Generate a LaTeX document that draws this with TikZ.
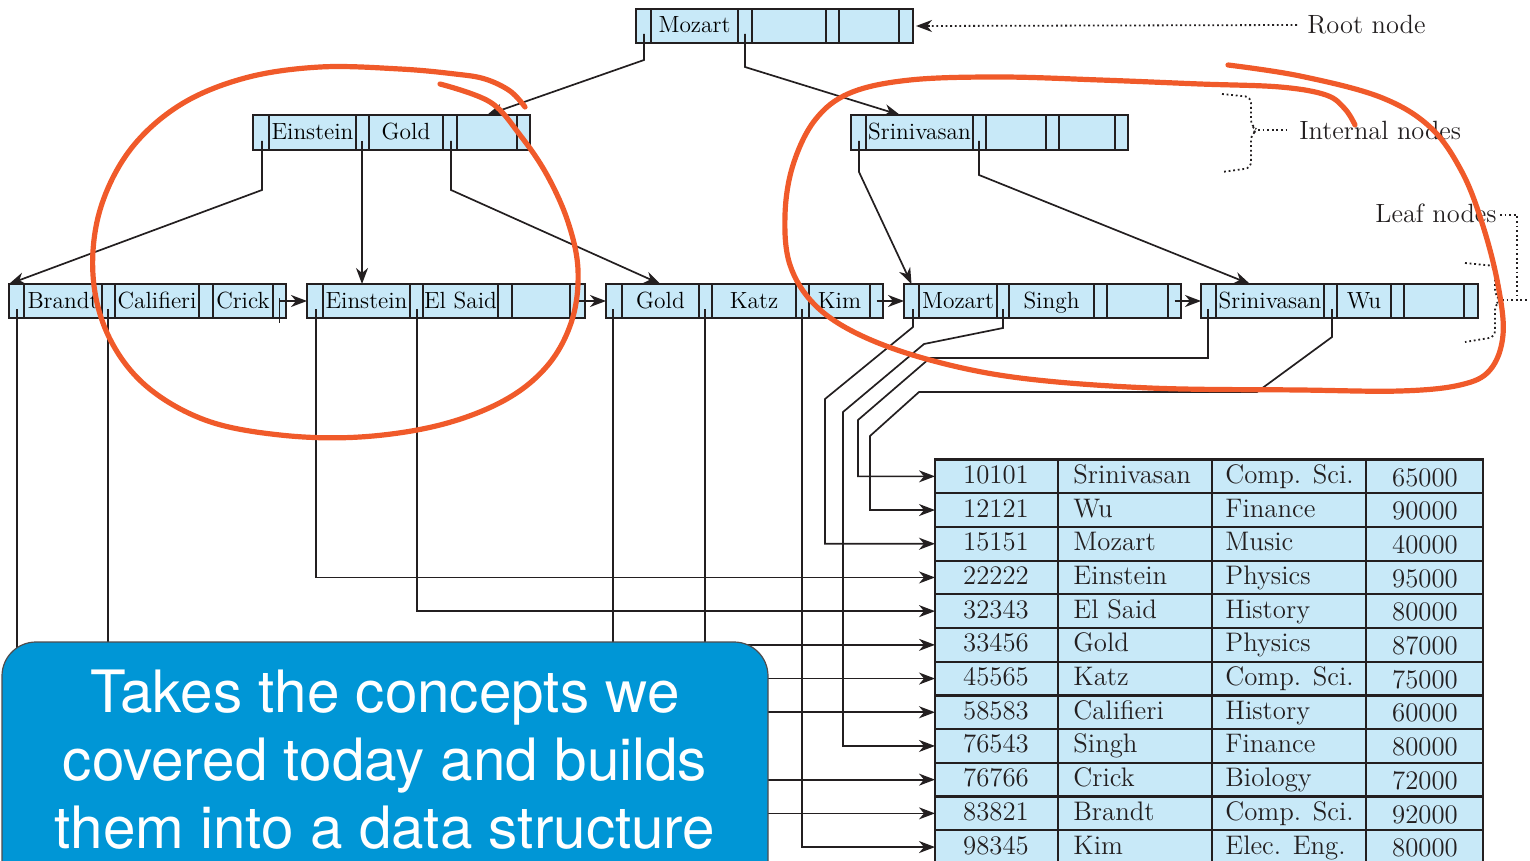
\documentclass[tikz,border=0pt]{standalone}
\usepackage{fontspec}
\newfontfamily\boxfont{TeX Gyre Heros}
\usetikzlibrary{arrows.meta,calc}
\definecolor{cellblue}{RGB}{200,233,248}
\definecolor{notebox}{RGB}{0,150,214}
\definecolor{pen}{RGB}{240,90,42}
\definecolor{ink}{RGB}{35,31,32}
\newcommand\cb[6]{\node[cellst,minimum width={(#3-#2)*0.5pt},minimum height={(#5-#4)*0.5pt}] (#1) at ({(#2+#3)/2},{(#4+#5)/2}) {#6};}
\newcommand\trow[5]{%
 \pgfmathsetmacro\ya{459.5+33.7*#1}\pgfmathsetmacro\yb{\ya+33.7}\pgfmathsetmacro\yc{\ya+16.85}%
 \cb{t#1-id}{935}{1058}{\ya}{\yb}{}
 \cb{t#1-nm}{1058}{1212}{\ya}{\yb}{}
 \cb{t#1-dp}{1212}{1366}{\ya}{\yb}{}
 \cb{t#1-sl}{1366}{1483}{\ya}{\yb}{}
 \node[tabtxt] (t#1-idt) at (996,\yc) {#2};
 \node[tabtxt,anchor=west] (t#1-nmt) at (1073,\yc) {#3};
 \node[tabtxt,anchor=west] (t#1-dpt) at (1225,\yc) {#4};
 \node[tabtxt] (t#1-slt) at (1425,\yc+2.7) {#5};
}
\tikzset{
 cellst/.style={draw=ink,fill=cellblue,line width=1.1pt,inner sep=0pt,outer sep=0pt,
   font=\fontsize{11.7}{14}\selectfont,text height=9pt,text depth=2pt},
 tabtxt/.style={inner sep=0pt,font=\fontsize{13.4}{16}\selectfont,text=ink,text height=9.8pt,text depth=2.8pt},
 lbl/.style={inner sep=0pt,font=\fontsize{13.2}{15}\selectfont,text=ink},
 ptr/.style={draw=ink,line width=0.85pt,-{Stealth[length=8pt,width=6pt,inset=2.5pt]}},
 lin/.style={draw=ink,line width=0.85pt},
 dotln/.style={draw=ink,line width=0.9pt,dash pattern=on 0.9pt off 1.4pt},
 penst/.style={draw=pen,line width=2.6pt,line cap=round,line join=round},
 notest/.style={draw=ink!80,line width=0.6pt,fill=notebox,rounded corners=17pt,inner sep=0pt},
 notetxt/.style={inner sep=0pt,text=white,font=\boxfont\fontsize{29.2}{34}\selectfont},
}
\begin{document}
\begin{tikzpicture}[x=0.5pt,y=-0.5pt]
\useasboundingbox (0,0) rectangle (1530,861);
\clip (0,0) rectangle (1530,861);
% ---------- root
\cb{root-p1}{636}{651}{9}{43}{}
\cb{root-k1}{651}{738}{9}{43}{Mozart}
\cb{root-p2}{738}{752}{9}{43}{}
\cb{root-k2}{752}{826}{9}{43}{}
\cb{root-p3}{826}{839}{9}{43}{}
\cb{root-k3}{839}{899}{9}{43}{}
\cb{root-p4}{899}{913}{9}{43}{}
% ---------- internal Einstein
\cb{ei-p1}{253}{269}{115}{150}{}
\cb{ei-k1}{269}{356}{115}{150}{Einstein}
\cb{ei-p2}{356}{369}{115}{150}{}
\cb{ei-k2}{369}{443}{115}{150}{Gold}
\cb{ei-p3}{443}{457}{115}{150}{}
\cb{ei-k3}{457}{517}{115}{150}{}
\cb{ei-p4}{517}{530}{115}{150}{}
% ---------- internal Srinivasan
\cb{si-p1}{851}{866}{115}{150}{}
\cb{si-k1}{866}{973}{115}{150}{Srinivasan}
\cb{si-p2}{973}{986}{115}{150}{}
\cb{si-k2}{986}{1046}{115}{150}{}
\cb{si-p3}{1046}{1059}{115}{150}{}
\cb{si-k3}{1059}{1115}{115}{150}{}
\cb{si-p4}{1115}{1128}{115}{150}{}
% ---------- leaves
\cb{l1-p1}{9}{24}{284}{318}{}
\cb{l1-k1}{24}{102}{284}{318}{Brandt}
\cb{l1-p2}{102}{115}{284}{318}{}
\cb{l1-k2}{115}{199}{284}{318}{Califieri}
\cb{l1-p3}{199}{213}{284}{318}{}
\cb{l1-k3}{213}{273}{284}{318}{Crick}
\cb{l1-p4}{273}{286}{284}{318}{}
\cb{l2-p1}{307}{323}{284}{318}{}
\cb{l2-k1}{323}{410}{284}{318}{Einstein}
\cb{l2-p2}{410}{423}{284}{318}{}
\cb{l2-k2}{423}{498}{284}{318}{El Said}
\cb{l2-p3}{498}{512}{284}{318}{}
\cb{l2-k3}{512}{570}{284}{318}{}
\cb{l2-p4}{570}{585}{284}{318}{}
\cb{l3-p1}{606}{622}{284}{318}{}
\cb{l3-k1}{622}{699}{284}{318}{Gold}
\cb{l3-p2}{699}{712}{284}{318}{}
\cb{l3-k2}{712}{796}{284}{318}{Katz}
\cb{l3-p3}{796}{809}{284}{318}{}
\cb{l3-k3}{809}{870}{284}{318}{Kim}
\cb{l3-p4}{870}{883}{284}{318}{}
\cb{l4-p1}{904}{919}{284}{318}{}
\cb{l4-k1}{919}{997}{284}{318}{Mozart}
\cb{l4-p2}{997}{1009}{284}{318}{}
\cb{l4-k2}{1009}{1094}{284}{318}{Singh}
\cb{l4-p3}{1094}{1107}{284}{318}{}
\cb{l4-k3}{1107}{1168}{284}{318}{}
\cb{l4-p4}{1168}{1181}{284}{318}{}
\cb{l5-p1}{1201}{1216}{284}{318}{}
\cb{l5-k1}{1216}{1324}{284}{318}{Srinivasan}
\cb{l5-p2}{1324}{1337}{284}{318}{}
\cb{l5-k2}{1337}{1391}{284}{318}{Wu}
\cb{l5-p3}{1391}{1404}{284}{318}{}
\cb{l5-k3}{1404}{1464}{284}{318}{}
\cb{l5-p4}{1464}{1478}{284}{318}{}
% ---------- table
\trow{0}{10101}{Srinivasan}{Comp. Sci.}{65000}
\trow{1}{12121}{Wu}{Finance}{90000}
\trow{2}{15151}{Mozart}{Music}{40000}
\trow{3}{22222}{Einstein}{Physics}{95000}
\trow{4}{32343}{El Said}{History}{80000}
\trow{5}{33456}{Gold}{Physics}{87000}
\trow{6}{45565}{Katz}{Comp. Sci.}{75000}
\trow{7}{58583}{Califieri}{History}{60000}
\trow{8}{76543}{Singh}{Finance}{80000}
\trow{9}{76766}{Crick}{Biology}{72000}
\trow{10}{83821}{Brandt}{Comp. Sci.}{92000}
\trow{11}{98345}{Kim}{Elec. Eng.}{80000}
% ---------- pointer origins
\coordinate (rp1) at (644,34);  \coordinate (rp2) at (745,34);
\coordinate (ep1) at (262,141); \coordinate (ep2) at (362,141); \coordinate (ep3) at (451,141);
\coordinate (sp1) at (859,141); \coordinate (sp2) at (979,141);
\coordinate (a1) at (17,309);   \coordinate (a2) at (108,309);
\coordinate (b1) at (316,309);  \coordinate (b2) at (417,309);
\coordinate (c1) at (613,309);  \coordinate (c2) at (705,309); \coordinate (c3) at (802,309);
\coordinate (d1) at (913,309);  \coordinate (d2) at (1003,309);
\coordinate (e1) at (1208,309); \coordinate (e2) at (1332,309);
\coordinate (crk) at (206,700);
\coordinate (siin) at (900,115);
\coordinate (l5in) at (1250,284);
% ---------- tree connectors
\draw[ptr] (rp1) -- (644,60) -- (ei-k3.north);
\draw[ptr] (rp2) -- (745,67) -- (siin);
\draw[ptr] (ep1) -- (262,190) -- (l1-p1.north west);
\draw[ptr] (ep2) -- (ep2 |- l2-k1.north);
\draw[ptr] (ep3) -- (451,190) -- (l3-k1.north);
\draw[ptr] (sp1) -- (859,172) -- (l4-p1.north);
\draw[ptr] (sp2) -- (979,175) -- (l5in);
% ---------- leaf chain
\draw[ptr] (l1-p4.center) -- (l2-p1.west);
\draw[lin] (l1-p4.center) ++(0,-3) -- ++(0,25);
\draw[ptr] (l2-p4.center) -- (l3-p1.west);
\draw[ptr] (l3-p4.center) -- (l4-p1.west);
\draw[ptr] (l4-p4.center) -- (l5-p1.west);
% ---------- record pointers
\draw[ptr] (a1) |- (t10-id.west);
\draw[ptr] (a2) |- (t7-id.west);
\draw[ptr] (crk) |- (t9-id.west);
\draw[ptr] (b1) |- (t3-id.west);
\draw[ptr] (b2) |- (t4-id.west);
\draw[ptr] (c1) |- (t5-id.west);
\draw[ptr] (c2) |- (t6-id.west);
\draw[ptr] (c3) |- (t11-id.west);
\draw[ptr] (d1) -- (913,327) -- (825,399) |- (t2-id.west);
\draw[ptr] (d2) -- (1003,328) -- (924,344) -- (843,412) |- (t8-id.west);
\draw[ptr] (e1) -- (1208,358) -- (930,358) -- (858,420) |- (t0-id.west);
\draw[ptr] (e2) -- (1332,337) -- (1257,392) -- (919,392) -- (870,436) |- (t1-id.west);
% ---------- labels
\node[lbl,anchor=west] (rootlbl) at (1307,25) {Root node};
\node[lbl,anchor=west] (intlbl) at (1299,130) {Internal nodes};
\node[lbl,anchor=west] (leaflbl) at (1375,213) {Leaf nodes};
\draw[dotln] ($(rootlbl.west)+(-10,0)$) -- ($(root-p4.east)+(12,0)$);
\draw[draw=ink,line width=0.85pt,{Stealth[length=8pt,width=6pt,inset=2.5pt]}-] ($(root-p4.east)+(3,0)$) -- ++(14,0);
\draw[dotln,rounded corners=3pt] (1222,94) -- (1251,97) -- (1251,126) -- (1258,130) -- (1251,134) -- (1251,168) -- (1222,172);
\draw[dotln] (1258,130) -- ($(intlbl.west)+(-12,0)$);
\draw[dotln,rounded corners=3pt] (1465,263) -- (1495,266) -- (1495,296) -- (1502,300) -- (1495,304) -- (1495,337) -- (1465,342);
\draw[dotln] (1502,300) -- (1528,300);
\draw[dotln] ($(leaflbl.east)+(3,2)$) -- (1517,215) -- (1517,298);
% ---------- hand-drawn loops
\draw[penst] plot[smooth,tension=0.6] coordinates {(440,84) (490,102) (520,135) (547,175) (568,222) (578,270) (572,320) (548,365) (505,400) (440,425) (360,437) (280,435) (205,420) (145,385) (108,335) (93,275) (100,210) (130,150) (180,105) (245,78) (320,67) (400,69) (455,74) (485,79) (510,91) (525,107)};
\draw[penst] plot[smooth,tension=0.6] coordinates {(1228,65) (1300,76) (1380,97) (1430,127) (1462,172) (1483,226) (1498,285) (1503,335) (1490,370) (1460,385) (1400,391) (1300,390) (1150,388) (1020,378) (930,360) (860,335) (815,305) (790,265) (785,215) (793,165) (815,120) (850,93) (910,80) (1000,77) (1100,80) (1200,84) (1280,87) (1326,95) (1345,109) (1355,125)};
% ---------- note box
\node[notest,minimum width={766*0.5pt},minimum height={260*0.5pt}] (note) at (385,772) {};
\node[notetxt,anchor=base] (n1) at (385,712) {Takes the concepts we};
\node[notetxt,anchor=base] (n2) at (385,780) {covered today and builds};
\node[notetxt,anchor=base] (n3) at (385,848) {them into a data structure};
\end{tikzpicture}
\end{document}
